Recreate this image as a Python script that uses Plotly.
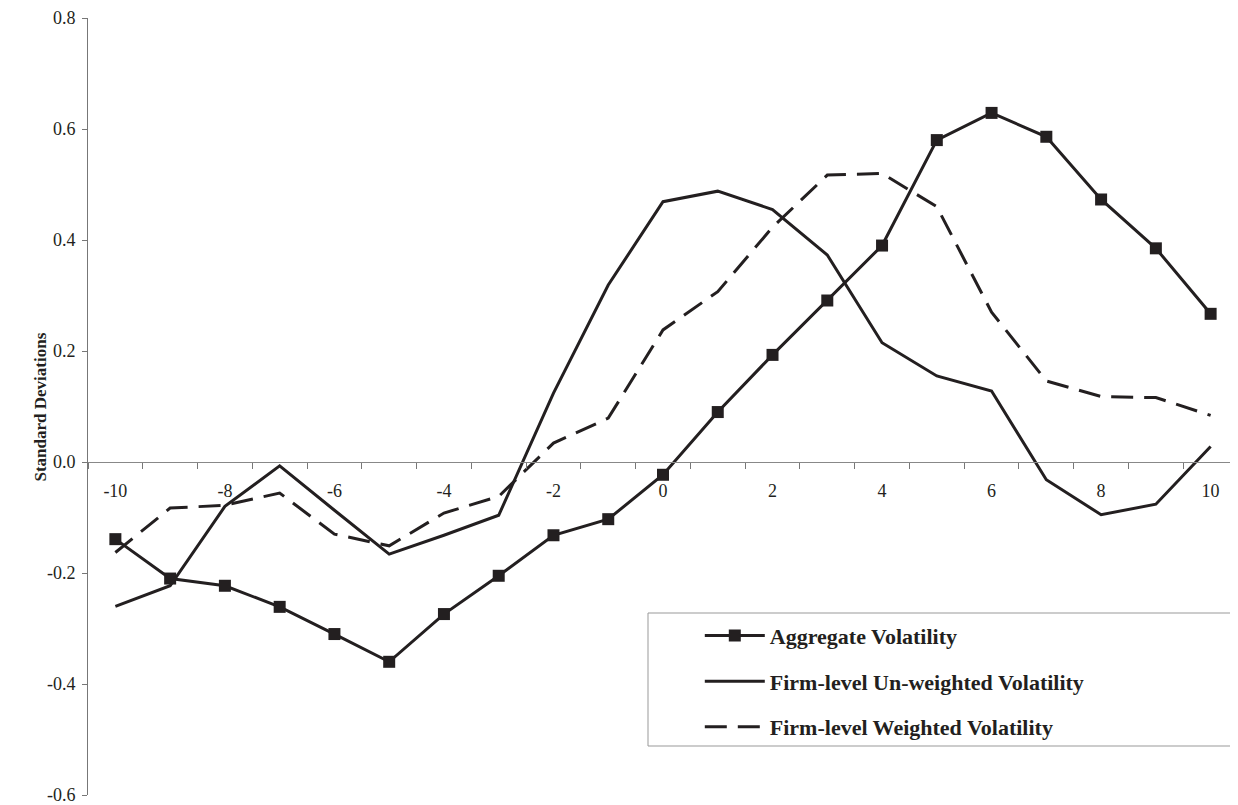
import plotly.graph_objects as go

event_time = list(range(-10, 11))
aggregate = [-0.139, -0.210, -0.223, -0.261, -0.310, -0.360, -0.274, -0.205, -0.132, -0.103,
             -0.023, 0.090, 0.193, 0.291, 0.390, 0.580, 0.629, 0.586, 0.473, 0.385, 0.267]
firm_unweighted = [-0.260, -0.223, -0.080, -0.007, -0.087, -0.166, -0.132, -0.096, 0.124, 0.319,
                   0.469, 0.488, 0.455, 0.373, 0.215, 0.155, 0.128, -0.032, -0.095, -0.076, 0.028]
firm_weighted = [-0.163, -0.083, -0.078, -0.056, -0.130, -0.151, -0.092, -0.062, 0.034, 0.079,
                 0.238, 0.307, 0.423, 0.517, 0.520, 0.460, 0.270, 0.146, 0.118, 0.116, 0.084]

x_label_vals = [-10, -8, -6, -4, -2, 0, 2, 4, 6, 8, 10]
x_label_text = ["-10", "-8", "-6", "-4", "-2", "0", "2", "4", "6", "8", "10"]
y_tick_vals = [-0.6, -0.4, -0.2, 0.0, 0.2, 0.4, 0.6, 0.8]
y_tick_text = ["-0.6", "-0.4", "-0.2", "0.0", "0.2", "0.4", "0.6", "0.8"]

INK = "#231f20"
FONT = "Liberation Serif"

fig = go.Figure()
fig.add_trace(go.Scatter(
    x=event_time, y=aggregate, name="<b>Aggregate Volatility</b>", mode="lines+markers",
    line=dict(color=INK, width=3), marker=dict(symbol="square", size=12, color=INK),
    legendgroup="a"))
fig.add_trace(go.Scatter(
    x=event_time, y=firm_unweighted, name="<b>Firm-level Un-weighted Volatility</b>", mode="lines",
    line=dict(color=INK, width=3), legendgroup="b"))
fig.add_trace(go.Scatter(
    x=event_time, y=firm_weighted, name="<b>Firm-level Weighted Volatility</b>", mode="lines",
    line=dict(color=INK, width=3, dash="22px,11px"), legendgroup="c"))

zero_pos = 0.6 / 1.4
half_ticks = [v + 0.5 for v in range(-11, 11)]

# page body has an 8px margin; plot area targets x 88..1238, y 18..795 in the window
fig.update_layout(
    width=1230, height=797,
    margin=dict(l=80, r=0, t=10, b=10),
    paper_bgcolor="white", plot_bgcolor="white",
    font=dict(family=FONT, color=INK, size=18),
    showlegend=True,
    legend=dict(x=0.532, y=0.232, xanchor="left", yanchor="top",
                bgcolor="rgba(0,0,0,0)", borderwidth=0,
                font=dict(family=FONT, size=22, color=INK),
                itemwidth=60, tracegroupgap=14),
    xaxis=dict(range=[-10.5, 10.5], anchor="free", position=zero_pos, automargin=False,
               tickmode="array", tickvals=half_ticks, showticklabels=False,
               ticks="outside", ticklen=6, tickcolor="#777", tickwidth=1,
               showline=True, linecolor="#888", linewidth=1,
               showgrid=False, zeroline=False),
    xaxis2=dict(range=[-10.5, 10.5], overlaying="x", anchor="free", position=zero_pos,
                automargin=False, ticklabeloverflow="allow",
                tickmode="array", tickvals=x_label_vals, ticktext=x_label_text,
                ticks="outside", ticklen=12, tickcolor="rgba(0,0,0,0)",
                showline=False, showgrid=False, zeroline=False,
                tickfont=dict(family=FONT, size=18, color=INK)),
    yaxis=dict(range=[-0.6, 0.8], tickmode="array", tickvals=y_tick_vals, ticktext=y_tick_text,
               automargin=False, ticklabelstandoff=3, ticklabeloverflow="allow",
               ticks="outside", ticklen=5, tickcolor="#777",
               showline=True, linecolor="#777", linewidth=1,
               showgrid=False, zeroline=False,
               tickfont=dict(family=FONT, size=18, color=INK)),
)

# y-axis title
fig.add_annotation(text="<b>Standard Deviations</b>", xref="paper", yref="paper",
                   x=-48 / 1150, y=0.5, xanchor="center", yanchor="middle",
                   textangle=-90, showarrow=False,
                   font=dict(family=FONT, size=17, color=INK))

# dummy trace to make xaxis2 render
fig.add_trace(go.Scatter(x=[None], y=[None], xaxis="x2", showlegend=False, hoverinfo="skip"))

# legend box
fig.add_shape(type="rect", xref="paper", yref="paper",
              x0=(648 - 88) / 1150, x1=(1236 - 88) / 1150,
              y0=(795 - 746) / 777, y1=(795 - 613) / 777,
              line=dict(color="#999", width=1), fillcolor="rgba(0,0,0,0)", layer="below")

fig.write_html("out.html")
